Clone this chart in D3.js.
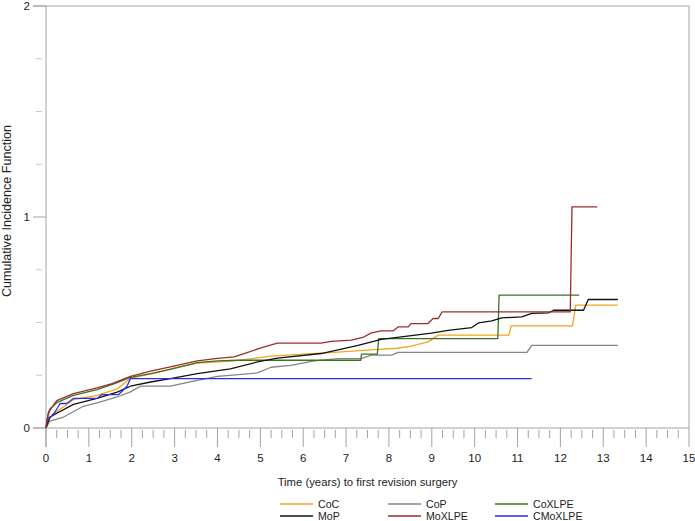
<!DOCTYPE html>
<html>
<head>
<meta charset="utf-8">
<script src="https://cdn.jsdelivr.net/npm/d3@7"></script>
<style>
  html, body { margin: 0; padding: 0; background: #fff; }
  svg { display: block; font-family: "Liberation Sans", Arial, sans-serif; }
</style>
</head>
<body>
<svg id="chart" width="695" height="521"></svg>
<script>
// ---- data ----
const xMajorTicks = [0,1,2,3,4,5,6,7,8,9,10,11,12,13,14,15];
const yMajorTicks = [0,1,2];
const yMinorTicks = [0.25,0.5,0.75,1.25,1.5,1.75];
const seriesNames = ["CoC","CoP","CoXLPE","MoP","MoXLPE","CMoXLPE"];
const seriesColors = ["#F5A41E","#858585","#3A7420","#111111","#9E2D2D","#2B2BF2"];

const CoC = [[0,0],[0.05,0.03],[0.09,0.045],[0.2,0.07],[0.41,0.1],[0.64,0.135],[1.19,0.155],[1.66,0.185],[1.97,0.236],[2.5,0.258],[3,0.285],[3.53,0.308],[4.47,0.32],[5.25,0.341],[6.0,0.35],[6.81,0.36],[7.75,0.373],[8.2,0.378],[8.52,0.388],[8.91,0.408],[9.15,0.44],[10.8,0.44],[10.85,0.484],[12.28,0.484],[12.36,0.582],[13.34,0.582]];
const CoP = [[0,0],[0.09,0.033],[0.41,0.052],[0.87,0.103],[1.19,0.119],[1.66,0.147],[1.97,0.171],[2.2,0.198],[2.9,0.198],[3.53,0.226],[4.0,0.245],[4.93,0.261],[5.25,0.288],[5.71,0.297],[6.26,0.318],[6.81,0.329],[7.35,0.329],[7.59,0.345],[8.06,0.345],[8.21,0.358],[11.22,0.358],[11.33,0.392],[13.34,0.392]];
const CoXLPE = [[0,0],[0.05,0.07],[0.09,0.09],[0.25,0.12],[0.64,0.155],[1.19,0.182],[1.6,0.21],[1.97,0.24],[2.44,0.258],[2.9,0.278],[3.53,0.31],[4.0,0.318],[4.47,0.321],[7.34,0.321],[7.36,0.35],[7.73,0.35],[7.76,0.424],[10.54,0.424],[10.57,0.63],[12.44,0.63]];
const MoP = [[0,0],[0.09,0.052],[0.64,0.112],[1.19,0.14],[1.66,0.17],[1.97,0.198],[2.44,0.218],[2.9,0.234],[3.53,0.258],[4.3,0.28],[4.93,0.313],[5.4,0.331],[6.42,0.353],[7.28,0.392],[7.82,0.42],[8.99,0.45],[9.38,0.463],[9.93,0.476],[10.09,0.498],[10.4,0.508],[10.63,0.522],[11.1,0.527],[11.33,0.543],[11.73,0.546],[11.84,0.558],[12.54,0.558],[12.65,0.609],[13.34,0.609]];
const MoXLPE = [[0,0],[0.05,0.06],[0.09,0.084],[0.25,0.13],[0.64,0.163],[1.19,0.19],[1.54,0.21],[1.97,0.245],[2.44,0.27],[2.9,0.29],[3.53,0.318],[4.0,0.33],[4.39,0.337],[4.62,0.353],[5.09,0.384],[5.4,0.402],[6.42,0.402],[6.65,0.411],[7.12,0.416],[7.39,0.429],[7.59,0.451],[7.82,0.46],[8.1,0.46],[8.21,0.479],[8.45,0.479],[8.52,0.495],[8.91,0.495],[9.03,0.519],[9.15,0.519],[9.24,0.55],[12.23,0.55],[12.27,1.048],[12.86,1.048]];
const CMoXLPE = [[0,0],[0.03,0.045],[0.1,0.05],[0.21,0.076],[0.33,0.116],[0.48,0.116],[0.64,0.14],[1.19,0.14],[1.3,0.158],[1.69,0.158],[1.89,0.198],[1.97,0.234],[11.33,0.234]];
const seriesData = [CoC, CoP, CoXLPE, MoP, MoXLPE, CMoXLPE];

// ---- drawing ----
const svg = d3.select("#chart");
const x = d3.scaleLinear().domain([0,15]).range([46,689]);
const y = d3.scaleLinear().domain([0,2]).range([428,6]);
const axisColor = "#a3a3a3";
const textColor = "#222";

// frame
svg.append("line").attr("x1",33).attr("x2",x(15)).attr("y1",y(2)).attr("y2",y(2)).attr("stroke",axisColor);
svg.append("line").attr("x1",x(15)).attr("x2",x(15)).attr("y1",y(2)).attr("y2",y(0)).attr("stroke",axisColor);
svg.append("line").attr("x1",33).attr("x2",x(15)).attr("y1",y(0)).attr("y2",y(0)).attr("stroke",axisColor);
svg.append("line").attr("x1",x(0)).attr("x2",x(0)).attr("y1",y(2)).attr("y2",y(0)+19).attr("stroke",axisColor);

// y ticks
svg.selectAll(".ytick").data(yMajorTicks).enter().append("line")
  .attr("x1",33).attr("x2",x(0)).attr("y1",d=>y(d)).attr("y2",d=>y(d)).attr("stroke",axisColor);
svg.selectAll(".yminor").data(yMinorTicks).enter().append("line")
  .attr("x1",36).attr("x2",42).attr("y1",d=>y(d)).attr("y2",d=>y(d)).attr("stroke","#c8c8c8");
svg.selectAll(".ylab").data(yMajorTicks).enter().append("text")
  .attr("x",30).attr("y",d=>y(d)+4).attr("text-anchor","end").attr("font-size",11.5).attr("fill",textColor)
  .text(d=>d);

// x ticks
const xMinor = [];
for (let i = 0; i < 15; i++) { for (const f of [0.25,0.5,0.75]) xMinor.push(i+f); }
svg.selectAll(".xtick").data(xMajorTicks).enter().append("line")
  .attr("x1",d=>x(d)).attr("x2",d=>x(d)).attr("y1",y(0)).attr("y2",y(0)+19).attr("stroke",axisColor);
svg.selectAll(".xminor").data(xMinor).enter().append("line")
  .attr("x1",d=>x(d)).attr("x2",d=>x(d)).attr("y1",y(0)+2).attr("y2",y(0)+10).attr("stroke",axisColor);
svg.selectAll(".xlab").data(xMajorTicks).enter().append("text")
  .attr("x",d=>x(d)).attr("y",y(0)+34).attr("text-anchor","middle").attr("font-size",11.5).attr("fill",textColor)
  .text(d=>d);

// titles
svg.append("text").attr("x",(x(0)+x(15))/2).attr("y",486).attr("text-anchor","middle")
  .attr("font-size",11.3).attr("fill",textColor).text("Time (years) to first revision surgery");
svg.append("text").attr("transform","translate(11,211) rotate(-90)").attr("text-anchor","middle")
  .attr("font-size",12.6).attr("fill",textColor).text("Cumulative Incidence Function");

// lines
const line = d3.line().x(d=>x(d[0])).y(d=>y(d[1]));
const drawOrder = [1,0,2,3,5,4];
drawOrder.forEach(i => {
  svg.append("path").datum(seriesData[i]).attr("d",line).attr("fill","none")
    .attr("stroke",seriesColors[i]).attr("stroke-width",1.3).attr("stroke-linejoin","round");
});

// legend
const legX = [280,388,495];
const legY = [504,516];
seriesNames.forEach((n,i) => {
  const cx = legX[i%3], cy = legY[Math.floor(i/3)];
  svg.append("line").attr("x1",cx).attr("x2",cx+33).attr("y1",cy).attr("y2",cy)
    .attr("stroke",seriesColors[i]).attr("stroke-width",1.5);
  svg.append("text").attr("x",cx+38).attr("y",cy+4).attr("font-size",10.6).attr("fill",textColor).text(n);
});
</script>
</body>
</html>
